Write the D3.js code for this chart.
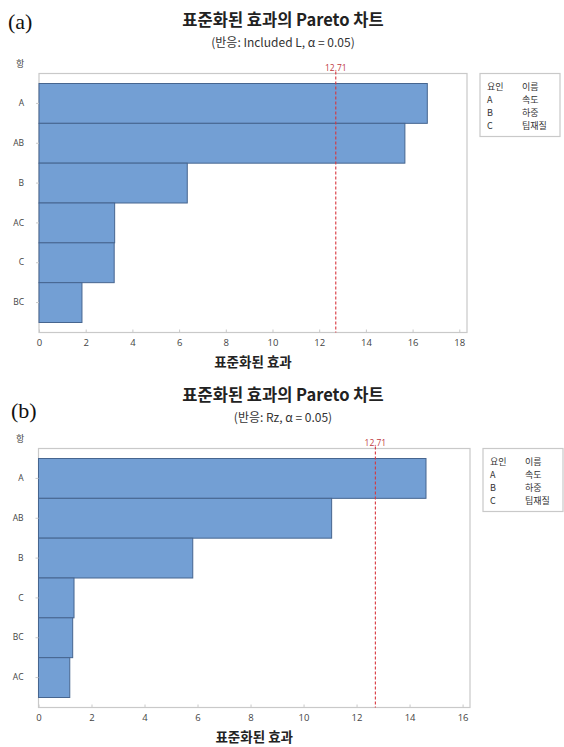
<!DOCTYPE html>
<html>
<head>
<meta charset="utf-8">
<script src="https://cdn.jsdelivr.net/npm/d3@7"></script>
<style>
  html, body { margin: 0; padding: 0; background: #fff; }
  svg { display: block; }
  .kr { font-family: "Noto Sans CJK KR", "Noto Sans", sans-serif; }
  .num { font-family: "Open Sans", "Noto Sans", sans-serif; }
</style>
</head>
<body>
<svg id="chart" width="564" height="747"></svg>
<script>
// Standardized effects, panel (a): response Included L
const termsA = ["A", "AB", "B", "AC", "C", "BC"];
const effectsA = [16.63, 15.67, 6.35, 3.24, 3.22, 1.84];
const ticksA = [0, 2, 4, 6, 8, 10, 12, 14, 16, 18];

// Standardized effects, panel (b): response Rz
const termsB = ["A", "AB", "B", "C", "BC", "AC"];
const effectsB = [14.62, 11.06, 5.82, 1.34, 1.29, 1.18];
const ticksB = [0, 2, 4, 6, 8, 10, 12, 14, 16];

// Critical t value for alpha = 0.05
const criticalValue = 12.71;

// Factor legend
const legendFactors = ["A", "B", "C"];
const legendNames = ["속도", "하중", "팁재질"];

const svg = d3.select("#chart");

const barFill = "#739fd4";
const barStroke = "#46658f";
const frameColor = "#c9c9c9";
const textGray = "#444";

function drawPanel(opt) {
  const g = svg.append("g");
  const left = opt.left, right = opt.right;
  const top = opt.top, bottom = opt.bottom;
  const cx = 283;

  // panel tag
  g.append("text")
    .attr("x", opt.tagX).attr("y", opt.tagY)
    .attr("font-family", "Liberation Serif, serif")
    .attr("font-size", 22)
    .attr("fill", "#111")
    .text(opt.tag);

  // titles
  g.append("text").attr("class", "kr")
    .attr("x", cx).attr("y", top - 48)
    .attr("text-anchor", "middle")
    .attr("font-size", 16.5).attr("font-weight", "bold")
    .attr("fill", "#222")
    .text("표준화된 효과의 Pareto 차트");
  g.append("text").attr("class", "kr")
    .attr("x", cx).attr("y", top - 27)
    .attr("text-anchor", "middle")
    .attr("font-size", 12)
    .attr("fill", "#333")
    .text(opt.subtitle);

  // y-axis header
  g.append("text").attr("class", "kr")
    .attr("x", 16).attr("y", top - 7)
    .attr("font-size", 9).attr("fill", textGray)
    .text("항");

  const x = d3.scaleLinear().domain([0, opt.xMax]).range([left, right]);
  const y = d3.scaleBand().domain(opt.terms)
    .range([top + 10, bottom - 10]).paddingInner(0).paddingOuter(0);

  // frame
  g.append("rect")
    .attr("x", left).attr("y", top)
    .attr("width", right - left).attr("height", bottom - top)
    .attr("fill", "none").attr("stroke", frameColor).attr("stroke-width", 1.2);

  // bars
  g.selectAll("rect.bar").data(opt.terms.map((t, i) => ({ t, v: opt.values[i] })))
    .enter().append("rect").attr("class", "bar")
    .attr("x", x(0))
    .attr("y", d => y(d.t))
    .attr("width", d => x(d.v) - x(0))
    .attr("height", y.bandwidth())
    .attr("fill", barFill)
    .attr("stroke", barStroke).attr("stroke-width", 1);

  // x axis
  const xAxis = d3.axisBottom(x).tickValues(opt.ticks).tickSize(3).tickPadding(4)
    .tickFormat(d3.format("d"));
  const gx = g.append("g").attr("transform", `translate(0,${bottom})`).call(xAxis);
  gx.select(".domain").remove();
  gx.selectAll(".tick line").attr("stroke", frameColor).attr("transform", "translate(0,-3)");
  gx.selectAll(".tick text").attr("class", "num")
    .attr("font-size", 9.5).attr("fill", textGray);

  // y axis
  const yAxis = d3.axisLeft(y).tickSize(3).tickPadding(12);
  const gy = g.append("g").attr("transform", `translate(${left},0)`).call(yAxis);
  gy.select(".domain").remove();
  gy.selectAll(".tick line").attr("stroke", frameColor);
  gy.selectAll(".tick text").attr("class", "num")
    .attr("font-size", 8.5).attr("fill", textGray);

  // x axis title
  g.append("text").attr("class", "kr")
    .attr("x", (left + right) / 2).attr("y", bottom + 34)
    .attr("text-anchor", "middle")
    .attr("font-size", 13.5).attr("font-weight", "bold")
    .attr("fill", "#222")
    .text("표준화된 효과");

  // critical value reference line
  g.append("line")
    .attr("x1", x(criticalValue)).attr("x2", x(criticalValue))
    .attr("y1", top - 2).attr("y2", bottom)
    .attr("stroke", "#d9363e").attr("stroke-width", 1.1)
    .attr("stroke-dasharray", "3,2");
  g.append("text").attr("class", "num")
    .attr("x", x(criticalValue)).attr("y", top - 3)
    .attr("text-anchor", "middle")
    .attr("font-size", 8.5).attr("fill", "#c0393f")
    .text(d3.format(".2f")(criticalValue));

  // legend box
  const lx = right + 13, ly = top, lw = 80, lh = 63;
  g.append("rect")
    .attr("x", lx).attr("y", ly).attr("width", lw).attr("height", lh)
    .attr("fill", "#fff").attr("stroke", frameColor).attr("stroke-width", 1.2);
  const rows = [["요인", "이름"]].concat(legendFactors.map((f, i) => [f, legendNames[i]]));
  rows.forEach((r, i) => {
    const yy = ly + 16 + i * 13.3;
    g.append("text").attr("class", "kr")
      .attr("x", lx + 7).attr("y", yy)
      .attr("font-size", 9).attr("fill", "#333").text(r[0]);
    g.append("text").attr("class", "kr")
      .attr("x", lx + 42).attr("y", yy)
      .attr("font-size", 9).attr("fill", "#333").text(r[1]);
  });
}

drawPanel({
  tag: "(a)", tagX: 8, tagY: 29,
  subtitle: "(반응: Included L, α = 0.05)",
  terms: termsA, values: effectsA, ticks: ticksA,
  left: 39, right: 467, top: 73.5, bottom: 332.5, xMax: 18.33
});

drawPanel({
  tag: "(b)", tagX: 11, tagY: 418,
  subtitle: "(반응: Rz, α = 0.05)",
  terms: termsB, values: effectsB, ticks: ticksB,
  left: 38.5, right: 470, top: 448.5, bottom: 707.5, xMax: 16.28
});
</script>
</body>
</html>
